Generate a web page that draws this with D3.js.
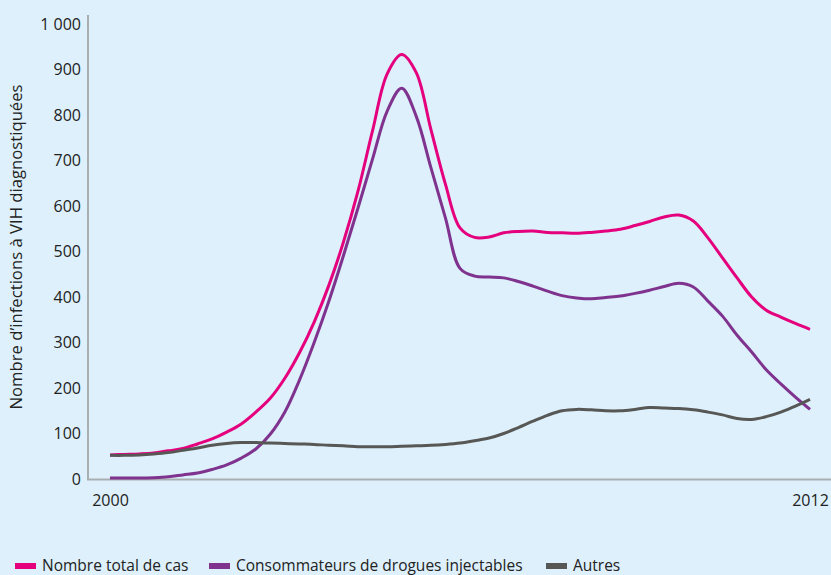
<!DOCTYPE html>
<html><head><meta charset="utf-8">
<script src="https://cdn.jsdelivr.net/npm/d3@7"></script>
<style>
html,body{margin:0;padding:0;background:#ddf0fb;}
svg{display:block;font-family:"Open Sans",sans-serif;}
</style></head>
<body><svg id="chart" width="831" height="575"></svg>
<script>
const years = [2000,2000.25,2000.5,2000.75,2001,2001.25,2001.5,2001.75,2002,2002.25,2002.5,2002.75,2003,2003.25,2003.5,2003.75,2004,2004.25,2004.5,2004.75,2005,2005.25,2005.5,2005.75,2006,2006.25,2006.5,2006.75,2007,2007.25,2007.5,2007.75,2008,2008.25,2008.5,2008.75,2009,2009.25,2009.5,2009.75,2010,2010.25,2010.5,2010.75,2011,2011.25,2011.5,2011.75,2012];
const totalCases = [53,54,55,57,62,67,77,88,103,121,147,178,222,278,345,425,520,632,765,890,933,893,769,648,552,531,532,541,544,545,542,541,540,542,545,549,557,566,576,580,567,530,486,442,400,371,356,342,329];
const injectingUsers = [2,2,2,3,5,9,13,21,31,46,66,99,148,218,300,390,490,595,703,808,859,797,685,574,463,446,444,442,434,424,413,403,398,396,399,402,408,415,423,430,422,391,358,316,279,240,209,180,153];
const others = [52,52,53,55,58,63,68,74,78,80,80,79,78,77,76,74,73,71,71,71,72,73,74,76,79,84,90,100,113,127,140,150,153,152,150,150,153,157,156,155,152,147,141,133,131,137,147,160,175];
const yTicks = [0,100,200,300,400,500,600,700,800,900,1000];
const xTicks = [2000,2012];
const seriesNames = ["Nombre total de cas","Consommateurs de drogues injectables","Autres"];
const seriesColors = ["#e5007e","#7f338f","#575756"];
const yLabel = "Nombre d\u2019infections à VIH diagnostiquées";

const svg = d3.select("#chart");
const x = d3.scaleLinear().domain([2000,2012]).range([110,810]);
const y = d3.scaleLinear().domain([0,1000]).range([479,24]);
const fr = d3.formatLocale({decimal:",",thousands:"\u00a0",grouping:[3],currency:["","€"]});
const fmt = fr.format(",d");
const axisColor = "#a9aeb1";
const txtColor = "#222";

svg.append("line").attr("x1",88).attr("x2",88).attr("y1",y(0)).attr("y2",y(1020))
  .attr("stroke",axisColor).attr("stroke-width",2);
svg.append("line").attr("x1",87).attr("x2",831).attr("y1",y(0)+0.5).attr("y2",y(0)+0.5)
  .attr("stroke",axisColor).attr("stroke-width",2);

const gy = svg.append("g").attr("transform","translate(88,0)")
  .call(d3.axisLeft(y).tickValues(yTicks).tickSize(0).tickPadding(7).tickFormat(fmt));
gy.select(".domain").remove();
gy.selectAll("text").attr("font-size",16).attr("fill",txtColor).attr("font-family","'Open Sans',sans-serif");

const gx = svg.append("g").attr("transform","translate(0,"+y(0)+")")
  .call(d3.axisBottom(x).tickValues(xTicks).tickSize(0).tickPadding(16).tickFormat(d3.format("d")));
gx.select(".domain").remove();
gx.selectAll("text").attr("font-size",16).attr("fill",txtColor).attr("font-family","'Open Sans',sans-serif");

svg.append("text").attr("transform","translate(22,247) rotate(-90)")
  .attr("text-anchor","middle").attr("font-size",16.7).attr("fill",txtColor).text(yLabel);

const line = d3.line().curve(d3.curveCatmullRom.alpha(0.5)).x((d,i)=>x(years[i])).y(d=>y(d));
const seriesData = [totalCases, injectingUsers, others];
seriesData.forEach((s,i)=>{
  svg.append("path").attr("d",line(s)).attr("fill","none")
    .attr("stroke",seriesColors[i]).attr("stroke-width",3).attr("stroke-linejoin","round");
});

const legendX = [15,209,546];
seriesNames.forEach((n,i)=>{
  svg.append("rect").attr("x",legendX[i]).attr("y",563).attr("width",21).attr("height",6).attr("fill",seriesColors[i]);
  svg.append("text").attr("x",legendX[i]+27).attr("y",570.5).attr("font-size",15.5).attr("fill",txtColor).text(n);
});
</script></body></html>
